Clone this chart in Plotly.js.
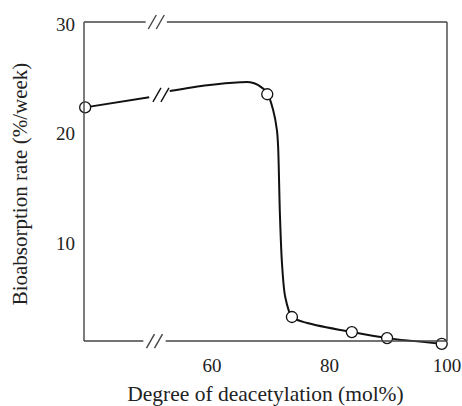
<!DOCTYPE html>
<html>
<head>
<meta charset="utf-8">
<script src="https://cdn.plot.ly/plotly-3.0.1.min.js"></script>
<style>html,body{margin:0;padding:0;background:#fff;}#chart{width:462px;height:406px;}</style>
</head>
<body>
<div id="chart"></div>
<script>
// Measured points (degree of deacetylation, bioabsorption rate)
const pointX = [38.4, 69.4, 73.6, 83.8, 89.8, 99.1];
const pointY = [22.4, 23.6, 3.25, 1.87, 1.32, 0.8];

// Fitted curve, left of the break
const curveLeftX = [38.4, 49.3];
const curveLeftY = [22.4, 23.33];
// Fitted curve, right of the break
const curveRightX = [52.8, 59.2, 64.8, 66.5, 67.8, 69.4, 70.4, 71.05, 71.25, 71.55, 71.9, 72.45, 73.6, 76.2, 83.8, 89.8, 99.1];
const curveRightY = [23.9, 24.43, 24.7, 24.7, 24.45, 23.7, 22.15, 20.3, 18.8, 12.7, 8.2, 5.1, 3.25, 2.7, 1.87, 1.32, 0.8];

const xTicks = [60, 80, 100];
const yTicks = [10, 20, 30];
const xRange = [38.2, 100];
const yRange = [0.6, 30.2];
const yAxisBase = 1.05;    // where the bottom frame line sits
const breakX = 50.5;       // axis break position (data units)
const breakCurveY = 23.55; // break on the curve

const serif = 'Liberation Serif, Times New Roman, serif';
const ink = '#111';
const axisColor = '#444';
const textColor = '#222';

const basePaper = (yAxisBase - yRange[0]) / (yRange[1] - yRange[0]);

const traces = [
  {x: curveLeftX, y: curveLeftY, mode: 'lines', line: {color: ink, width: 2}, hoverinfo: 'skip'},
  {x: curveRightX, y: curveRightY, mode: 'lines', line: {color: ink, width: 2, shape: 'spline', smoothing: 0.8}, hoverinfo: 'skip'},
  {x: pointX, y: pointY, mode: 'markers', marker: {size: 11, color: '#fff', line: {color: ink, width: 1.3}}, cliponaxis: false}
];

function slashPair(xa, ya, yref, color) {
  const out = [];
  for (const dx of [-4, 4]) {
    out.push({type: 'line', xref: 'x', yref: yref, xsizemode: 'pixel', ysizemode: 'pixel',
      xanchor: xa, yanchor: ya, x0: dx - 4, x1: dx + 4, y0: -7, y1: 7,
      line: {color: color, width: 1.4}, layer: 'above'});
  }
  return out;
}

const frameLine = {color: axisColor, width: 1.4};
const shapes = [
  // frame: left and right
  {type: 'line', xref: 'paper', yref: 'paper', x0: 0, x1: 0, y0: basePaper, y1: 1, line: frameLine},
  {type: 'line', xref: 'paper', yref: 'paper', x0: 1, x1: 1, y0: basePaper, y1: 1, line: frameLine},
  // top and bottom with gap
  {type: 'line', xref: 'x', yref: 'paper', x0: xRange[0], x1: breakX - 1.8, y0: 1, y1: 1, line: frameLine},
  {type: 'line', xref: 'x', yref: 'paper', x0: breakX + 1.8, x1: xRange[1], y0: 1, y1: 1, line: frameLine},
  {type: 'line', xref: 'x', yref: 'paper', x0: xRange[0], x1: breakX - 2.2, y0: basePaper, y1: basePaper, line: frameLine},
  {type: 'line', xref: 'x', yref: 'paper', x0: breakX + 1.6, x1: xRange[1], y0: basePaper, y1: basePaper, line: frameLine}
].concat(slashPair(breakX, 1, 'paper', axisColor))
 .concat(slashPair(breakX - 0.3, basePaper, 'paper', axisColor))
 .concat(slashPair(breakX + 0.8, breakCurveY, 'y', ink));

const layout = {
  width: 462, height: 406,
  margin: {l: 84, r: 15, t: 22, b: 60},
  paper_bgcolor: '#fff', plot_bgcolor: '#fff',
  showlegend: false,
  font: {family: serif, size: 19, color: textColor},
  xaxis: {range: xRange, tickvals: xTicks, ticktext: xTicks.map(String), showgrid: false, zeroline: false,
    showline: false, ticks: '', ticklabelstandoff: 6,
    title: {text: 'Degree of deacetylation (mol%)', font: {family: serif, size: 21.5, color: textColor}, standoff: 11}},
  yaxis: {range: yRange, tickvals: yTicks, ticktext: yTicks.map(String), showgrid: false, zeroline: false,
    showline: false, ticks: '', ticklabelstandoff: 8,
    title: {text: 'Bioabsorption rate (%/week)', font: {family: serif, size: 21, color: textColor}, standoff: 22}},
  shapes: shapes
};

Plotly.newPlot('chart', traces, layout, {displayModeBar: false, staticPlot: true});
</script>
</body>
</html>
